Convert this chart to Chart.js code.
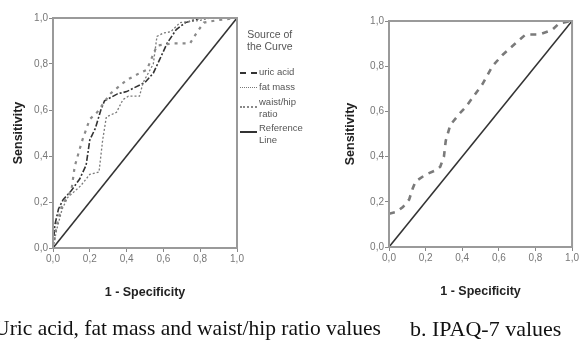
<!DOCTYPE html>
<html>
<head>
<meta charset="utf-8">
<script src="https://cdn.jsdelivr.net/npm/chart.js@4"></script>
<style>
  body { margin: 0; background: #fff; }
  #wrap { position: relative; width: 580px; height: 348px; overflow: hidden; }
  canvas { position: absolute; left: 0; top: 0; }
  .cap { position: absolute; font-family: "Liberation Serif", serif; font-size: 22px; color: #111; white-space: nowrap; }
  .leg { position: absolute; font-family: "Liberation Sans", sans-serif; font-size: 9.5px; color: #555; line-height: 12px; }
  .sw { position: absolute; width: 17px; height: 0; }
</style>
</head>
<body>
<div id="wrap">
  <canvas id="roc1" width="580" height="348"></canvas>
  <canvas id="roc2" width="580" height="348"></canvas>

  <div class="leg" style="left:247px; top:28px; text-align:center; font-size:10.5px;">Source of<br>the Curve</div>
  <div class="sw" style="left:240px; top:72px; border-top:2px dashed #333;"></div>
  <div class="leg" style="left:259px; top:66px;">uric acid</div>
  <div class="sw" style="left:240px; top:87px; border-top:1px dotted #777;"></div>
  <div class="leg" style="left:259px; top:81px;">fat mass</div>
  <div class="sw" style="left:240px; top:106px; border-top:2px dotted #888;"></div>
  <div class="leg" style="left:259px; top:96px;">waist/hip<br>ratio</div>
  <div class="sw" style="left:240px; top:131px; border-top:2px solid #333;"></div>
  <div class="leg" style="left:259px; top:122px;">Reference<br>Line</div>

  <div class="cap" style="right:199px; top:316px; font-size:21.5px;">a. Uric acid, fat mass and waist/hip ratio values</div>
  <div class="cap" style="left:410px; top:316px;">b. IPAQ-7 values</div>
</div>
<script>
// ROC curve a: uric acid, fat mass, waist/hip ratio
const uricX = [0, 0.01, 0.03, 0.055, 0.1, 0.145, 0.18, 0.2, 0.23, 0.26, 0.28, 0.35, 0.4, 0.5, 0.545, 0.58, 0.62, 0.67, 0.72, 0.8, 1]
const uricY = [0, 0.1, 0.17, 0.21, 0.25, 0.3, 0.36, 0.47, 0.52, 0.6, 0.64, 0.67, 0.68, 0.72, 0.76, 0.82, 0.89, 0.95, 0.98, 1, 1]

const fatX = [0, 0.02, 0.05, 0.08, 0.15, 0.2, 0.25, 0.27, 0.29, 0.345, 0.38, 0.41, 0.47, 0.49, 0.545, 0.565, 0.6, 0.64, 0.69, 0.8, 0.855, 1]
const fatY = [0, 0.08, 0.17, 0.22, 0.27, 0.32, 0.33, 0.47, 0.57, 0.59, 0.645, 0.66, 0.66, 0.72, 0.8, 0.92, 0.935, 0.94, 0.98, 0.99, 1, 1]

const waistX = [0, 0.02, 0.05, 0.1, 0.118, 0.145, 0.16, 0.2, 0.24, 0.31, 0.4, 0.47, 0.51, 0.565, 0.655, 0.745, 0.78, 0.82, 0.89, 1]
const waistY = [0, 0.1, 0.19, 0.25, 0.355, 0.43, 0.47, 0.56, 0.59, 0.67, 0.73, 0.76, 0.775, 0.88, 0.89, 0.89, 0.935, 0.98, 0.99, 1]

// ROC curve b: IPAQ-7
const ipaqX = [0, 0.04, 0.076, 0.11, 0.13, 0.145, 0.2, 0.257, 0.28, 0.3, 0.31, 0.335, 0.385, 0.42, 0.456, 0.51, 0.565, 0.62, 0.69, 0.746, 0.82, 0.89, 0.93, 1]
const ipaqY = [0.147, 0.155, 0.177, 0.21, 0.26, 0.29, 0.32, 0.34, 0.355, 0.4, 0.47, 0.54, 0.59, 0.62, 0.66, 0.72, 0.8, 0.85, 0.9, 0.94, 0.94, 0.96, 0.99, 1]

const refX = [0, 1]
const refY = [0, 1]

const tickValues = [0, 0.2, 0.4, 0.6, 0.8, 1]

const pts = (xs, ys) => xs.map((x, i) => ({x: x, y: ys[i]}))

const line = (label, xs, ys, color, width, dash) => ({
  label,
  data: pts(xs, ys),
  showLine: true,
  borderColor: color,
  borderWidth: width,
  borderDash: dash,
  pointRadius: 0,
  fill: false,
  tension: 0
})

// frame round the plot area
const frame = {
  id: 'frame',
  afterDraw(chart) {
    const a = chart.chartArea
    const ctx = chart.ctx
    ctx.save()
    ctx.strokeStyle = '#9a9a9a'
    ctx.lineWidth = 2
    ctx.strokeRect(a.left, a.top, a.right - a.left, a.bottom - a.top)
    ctx.restore()
  }
}

const tickFont = {family: 'Liberation Sans', size: 10}
const titleFont = {family: 'Liberation Sans', size: 12.5, weight: 'bold'}

function makeOptions(pad, yWidth, xHeight, yTitlePad) {
  return {
    animation: false,
    responsive: false,
    layout: {padding: pad},
    plugins: {legend: {display: false}, tooltip: {enabled: false}},
    scales: {
      x: {
        type: 'linear', min: 0, max: 1,
        afterBuildTicks: s => { s.ticks = tickValues.map(v => ({value: v})) },
        afterFit: s => { s.height = xHeight },
        grid: {drawOnChartArea: false, tickLength: 4, color: '#888'},
        border: {color: '#9a9a9a', width: 2},
        ticks: {font: tickFont, color: '#777', padding: 1, maxRotation: 0,
          callback: v => v.toFixed(1).replace('.', ',')},
        title: {display: true, text: '1 - Specificity', font: titleFont, color: '#222', padding: {top: 0, bottom: 5}}
      },
      y: {
        type: 'linear', min: 0, max: 1,
        afterBuildTicks: s => { s.ticks = tickValues.map(v => ({value: v})) },
        afterFit: s => { s.width = yWidth },
        grid: {drawOnChartArea: false, tickLength: 4, color: '#888'},
        border: {color: '#9a9a9a', width: 2},
        ticks: {font: tickFont, color: '#777', padding: 1,
          callback: v => v.toFixed(1).replace('.', ',')},
        title: {display: true, text: 'Sensitivity', font: titleFont, color: '#222', padding: {top: yTitlePad, bottom: 0}}
      }
    }
  }
}

new Chart(document.getElementById('roc1'), {
  type: 'scatter',
  data: {
    datasets: [
      line('Reference Line', refX, refY, '#333', 1.6, []),
      line('fat mass', fatX, fatY, '#7a7a7a', 1.3, [2, 2]),
      line('waist/hip ratio', waistX, waistY, '#8a8a8a', 2.2, [3, 5]),
      line('uric acid', uricX, uricY, '#333', 1.6, [6, 2, 2, 2])
    ]
  },
  options: makeOptions({left: 0, top: 18, right: 343, bottom: 43}, 53, 57, 11),
  plugins: [frame]
})

new Chart(document.getElementById('roc2'), {
  type: 'scatter',
  data: {
    datasets: [
      line('Reference Line', refX, refY, '#333', 1.6, []),
      line('IPAQ-7', ipaqX, ipaqY, '#7a7a7a', 2.6, [6, 6])
    ]
  },
  options: makeOptions({left: 333, top: 21, right: 7, bottom: 44}, 56, 57, 10),
  plugins: [frame]
})
</script>
</body>
</html>
